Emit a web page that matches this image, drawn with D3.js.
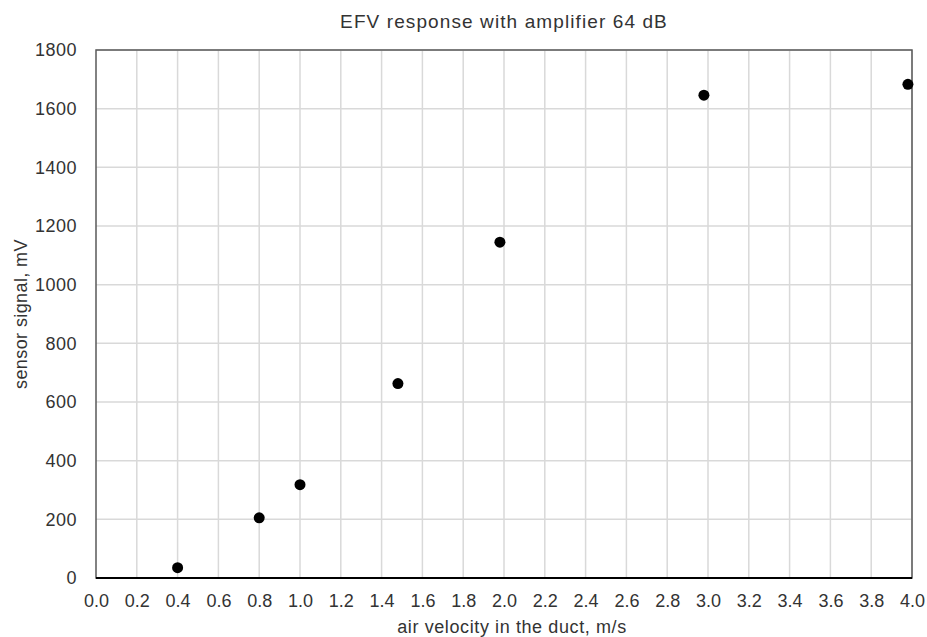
<!DOCTYPE html>
<html>
<head>
<meta charset="utf-8">
<script src="https://cdn.jsdelivr.net/npm/d3@7"></script>
<style>
  body { margin: 0; background: #fff; }
  text { font-family: "Liberation Sans", Arial, sans-serif; fill: #333; }
</style>
</head>
<body>
<div id="chart"></div>
<script>
// measured points
var velocity = [0.4, 0.8, 1.0, 1.48, 1.98, 2.98, 3.98];
var signal = [35, 205, 318, 663, 1145, 1646, 1683];
var xTicks = d3.range(0, 4.01, 0.2);
var yTicks = d3.range(0, 1801, 200);

var W = 927, H = 637;
var margin = {top: 50, right: 15, bottom: 59, left: 96};
var width = W - margin.left - margin.right;
var height = H - margin.top - margin.bottom;

var svg = d3.select("#chart")
    .append("svg")
    .attr("width", W)
    .attr("height", H);

var g = svg.append("g")
    .attr("transform", "translate(" + margin.left + "," + margin.top + ")");

var x = d3.scaleLinear().domain([0, 4]).range([0, width]);
var y = d3.scaleLinear().domain([0, 1800]).range([height, 0]);

// grid
g.append("g")
  .selectAll("line")
  .data(xTicks.slice(1))
  .join("line")
  .attr("x1", d => x(d)).attr("x2", d => x(d))
  .attr("y1", 0).attr("y2", height)
  .attr("stroke", "#d9d9d9").attr("stroke-width", 1.5);

g.append("g")
  .selectAll("line")
  .data(yTicks.slice(1))
  .join("line")
  .attr("x1", 0).attr("x2", width)
  .attr("y1", d => y(d)).attr("y2", d => y(d))
  .attr("stroke", "#d9d9d9").attr("stroke-width", 1.5);

// frame
g.append("rect")
  .attr("width", width).attr("height", height)
  .attr("fill", "none")
  .attr("stroke", "#595959").attr("stroke-width", 1.5);

g.append("line")
  .attr("x1", 0).attr("x2", width)
  .attr("y1", height).attr("y2", height)
  .attr("stroke", "#000").attr("stroke-width", 2);

// axes
var xAxis = g.append("g")
    .attr("transform", "translate(0," + height + ")")
    .call(d3.axisBottom(x).tickValues(xTicks).tickFormat(d3.format(".1f")).tickSize(0).tickPadding(16));
var yAxis = g.append("g")
    .call(d3.axisLeft(y).tickValues(yTicks).tickFormat(d3.format("d")).tickSize(0).tickPadding(19));
[xAxis, yAxis].forEach(function(a) {
  a.select(".domain").remove();
  a.selectAll("text").attr("font-size", 18).attr("fill", "#333")
    .attr("font-family", "Liberation Sans, Arial, sans-serif");
});
yAxis.selectAll("text").attr("letter-spacing", 0.5);

// points
g.selectAll("circle.pt")
  .data(velocity)
  .join("circle")
  .attr("class", "pt")
  .attr("cx", d => x(d))
  .attr("cy", (d, i) => y(signal[i]))
  .attr("r", 5.5)
  .attr("fill", "#000");

// titles
svg.append("text")
  .attr("x", margin.left + width / 2).attr("y", 28)
  .attr("text-anchor", "middle").attr("font-size", 19)
  .attr("letter-spacing", 1.1)
  .text("EFV response with amplifier 64 dB");

svg.append("text")
  .attr("x", 512).attr("y", 633)
  .attr("text-anchor", "middle").attr("font-size", 18)
  .attr("letter-spacing", 0.6)
  .text("air velocity in the duct, m/s");

svg.append("text")
  .attr("transform", "translate(27," + (margin.top + height / 2) + ") rotate(-90)")
  .attr("text-anchor", "middle").attr("font-size", 18)
  .attr("letter-spacing", 0.4)
  .text("sensor signal, mV");
</script>
</body>
</html>
